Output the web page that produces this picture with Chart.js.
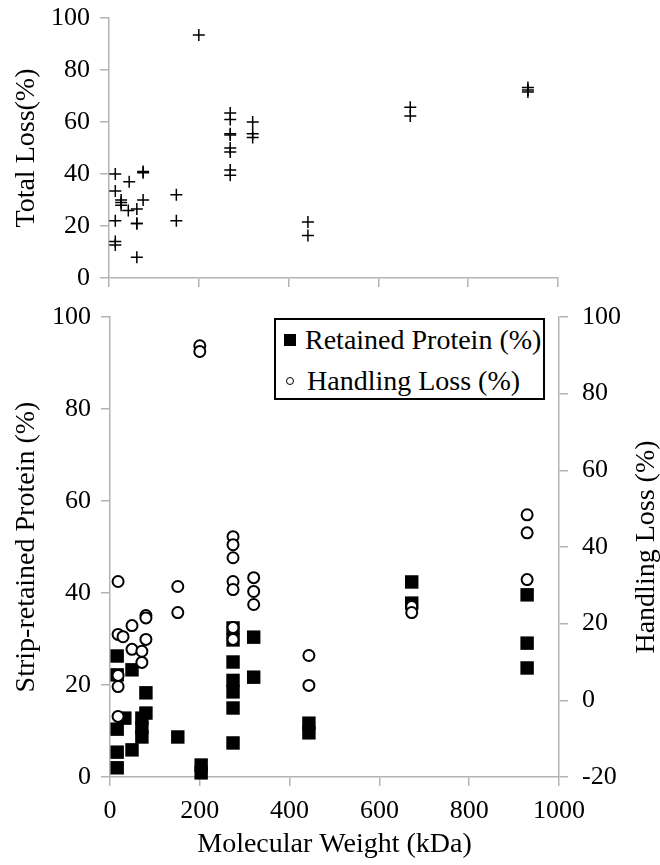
<!DOCTYPE html>
<html lang="en">
<head>
    <meta charset="UTF-8">
    <title>Protein loss vs molecular weight</title>
    <script src="https://cdn.jsdelivr.net/npm/chart.js"></script>
    <style>
        body { margin: 0; background: #fff; }
        #wrap { position: relative; width: 660px; height: 865px; font-family: "Liberation Serif", "Times New Roman", serif; }
        #top-chart { position: absolute; left: 0; top: 0; }
        #bottom-chart { position: absolute; left: 0; top: 300px; }
        #legend { position: absolute; left: 274px; top: 318px; width: 267px; height: 78px; border: 2px solid #000; background: #fff; font-size: 28px; color: #000; }
        #legend .row { position: absolute; left: 0; height: 34px; line-height: 34px; white-space: nowrap; }
        #legend .sq { position: absolute; left: 8px; top: 11px; width: 12px; height: 12px; background: #000; }
        #legend .ci { position: absolute; left: 10px; top: 13px; width: 6px; height: 6px; border: 1.5px solid #000; border-radius: 50%; }
        #legend .txt { position: absolute; }
    </style>
</head>
<body>
<div id="wrap">
    <canvas id="top-chart" width="660" height="300"></canvas>
    <canvas id="bottom-chart" width="660" height="565"></canvas>
    <div id="legend">
        <div class="row" style="top:3px"><span class="sq"></span><span class="txt" style="left:29px">Retained Protein (%)</span></div>
        <div class="row" style="top:44px"><span class="ci"></span><span class="txt" style="left:31px">Handling Loss (%)</span></div>
    </div>
</div>

<script>
    // total loss (top panel)
    const totalLossMW = [14, 14, 14, 14, 14, 27, 27, 27, 45, 43, 62, 62, 62, 62, 76, 76, 76, 150, 150, 200,
        270, 270, 270, 270, 270, 270, 270, 270, 320, 320, 320, 443, 443, 671, 671, 933, 933, 933];
    const totalLoss = [40, 33.5, 22, 14, 12.7, 30, 29, 28, 37, 26, 26.5, 21, 21, 8, 41, 40.5, 30, 32, 22, 93.5,
        63.5, 61, 55.5, 55, 50, 48.5, 41.5, 39.5, 60, 55.5, 54, 21.5, 16.3, 65.7, 62.3, 73.3, 72.3, 71.5];

    // strip-retained protein (bottom panel, left axis)
    const retainedMW = [16, 16, 16, 16, 16, 33, 49, 49, 71, 71, 71, 80, 80, 151, 203, 203,
        274, 274, 274, 274, 274, 274, 274, 320, 320, 443, 443, 672, 672, 929, 929, 929];
    const retained = [26.3, 22.2, 10.4, 5.4, 2, 12.8, 23.3, 5.9, 12.8, 10.7, 8.7, 18.3, 13.9, 8.7, 2.6, 0.9,
        32.4, 29.8, 25, 21, 18.5, 15, 7.4, 30.4, 21.7, 11.7, 9.6, 42.4, 37.8, 39.6, 29.1, 23.7];

    // handling loss (bottom panel, right axis)
    const handlingMW = [18, 18, 18, 18, 18, 29, 49, 49, 71, 71, 80, 80, 80, 151, 151, 200, 200,
        274, 274, 274, 274, 274, 274, 274, 320, 320, 320, 443, 443, 672, 672, 929, 929, 929];
    const handling = [31, 17.2, 6.5, 3.6, -4.2, 16.6, 19.5, 13.3, 12.8, 9.9, 22.1, 21.5, 15.9, 29.7, 22.9, 92.5, 91,
        42.7, 40.6, 37.2, 31, 28.9, 19, 15.9, 32, 28.4, 25, 11.7, 3.9, 24.5, 22.9, 48.4, 43.7, 31.5];

    const toPoints = (xs, ys) => xs.map((x, i) => ({ x: x, y: ys[i] }));

    const axisGrey = '#b4b4b4';
    const tickFont = { family: 'Liberation Serif', size: 26 };
    const titleFont = { family: 'Liberation Serif', size: 28, lineHeight: 1 };
    const axisGrid = { drawOnChartArea: false, tickLength: 9, color: axisGrey, lineWidth: 1.5 };
    const axisBorder = { color: axisGrey, width: 1.5 };
    const plainNumber = v => String(v);   // no thousands separator

    // fixed axis width, and don't let the tick labels push the plot area in
    const fixWidth = w => s => { s.width = w; s.paddingTop = 0; s.paddingBottom = 0; };
    const fixHeight = h => s => { s.height = h; s.paddingLeft = 0; s.paddingRight = 0; };

    // right axis title reads bottom-to-top, so it is drawn here instead of by the scale
    const rightTitle = {
        id: 'rightTitle',
        afterDraw(chart) {
            const ctx = chart.ctx;
            const area = chart.chartArea;
            ctx.save();
            ctx.translate(chart.scales.y2.right - 13, (area.top + area.bottom) / 2);
            ctx.rotate(-Math.PI / 2);
            ctx.font = '28px "Liberation Serif"';
            ctx.fillStyle = '#000';
            ctx.textAlign = 'center';
            ctx.textBaseline = 'middle';
            ctx.fillText('Handling Loss (%)', 0, 0);
            ctx.restore();
        }
    };

    new Chart(document.getElementById('top-chart'), {
        type: 'scatter',
        data: {
            datasets: [{
                label: 'Total Loss (%)',
                data: toPoints(totalLossMW, totalLoss),
                pointStyle: 'cross',
                pointRadius: 6,
                pointBorderWidth: 1.5,
                pointBorderColor: '#000',
                clip: false
            }]
        },
        options: {
            responsive: false,
            animation: false,
            layout: { padding: { top: 18, right: 102, bottom: 0, left: 0 } },
            plugins: { legend: { display: false }, tooltip: { enabled: false } },
            scales: {
                x: {
                    type: 'linear', min: 0, max: 1000,
                    ticks: { stepSize: 200, display: false },
                    grid: axisGrid, border: axisBorder,
                    afterFit: fixHeight(22)
                },
                y: {
                    min: 0, max: 100,
                    ticks: { stepSize: 20, color: '#000', font: tickFont, padding: 10, callback: plainNumber },
                    grid: axisGrid, border: axisBorder,
                    title: { display: true, text: 'Total Loss(%)', color: '#000', font: titleFont, padding: { top: 13, bottom: 0 } },
                    afterFit: fixWidth(109)
                }
            }
        }
    });

    new Chart(document.getElementById('bottom-chart'), {
        type: 'scatter',
        data: {
            datasets: [{
                label: 'Handling Loss (%)',
                data: toPoints(handlingMW, handling),
                yAxisID: 'y2',
                order: 0,
                pointStyle: 'circle',
                pointRadius: 5.5,
                pointBorderWidth: 2,
                pointBorderColor: '#000',
                pointBackgroundColor: '#fff',
                clip: false
            }, {
                label: 'Retained Protein (%)',
                data: toPoints(retainedMW, retained),
                yAxisID: 'y',
                order: 1,
                pointStyle: 'rect',
                pointRadius: 9.5,
                pointBorderWidth: 0,
                pointBackgroundColor: '#000',
                clip: false
            }]
        },
        options: {
            responsive: false,
            animation: false,
            layout: { padding: { top: 17, right: 0, bottom: 0, left: 0 } },
            plugins: { legend: { display: false }, tooltip: { enabled: false } },
            scales: {
                x: {
                    type: 'linear', min: 0, max: 1000,
                    ticks: { stepSize: 200, color: '#000', font: tickFont, padding: 10, callback: plainNumber },
                    grid: axisGrid, border: axisBorder,
                    title: { display: true, text: 'Molecular Weight (kDa)', color: '#000', font: titleFont, padding: { top: 0, bottom: 6 } },
                    afterFit: fixHeight(88)
                },
                y: {
                    position: 'left', min: 0, max: 100,
                    ticks: { stepSize: 20, color: '#000', font: tickFont, padding: 10, callback: plainNumber },
                    grid: axisGrid, border: axisBorder,
                    title: { display: true, text: 'Strip-retained Protein (%)', color: '#000', font: titleFont, padding: { top: 13, bottom: 0 } },
                    afterFit: fixWidth(110)
                },
                y2: {
                    position: 'right', min: -20, max: 100,
                    ticks: { stepSize: 20, color: '#000', font: tickFont, padding: 14, callback: plainNumber },
                    grid: axisGrid, border: axisBorder,
                    afterFit: fixWidth(101)
                }
            }
        },
        plugins: [rightTitle]
    });
</script>
</body>
</html>
